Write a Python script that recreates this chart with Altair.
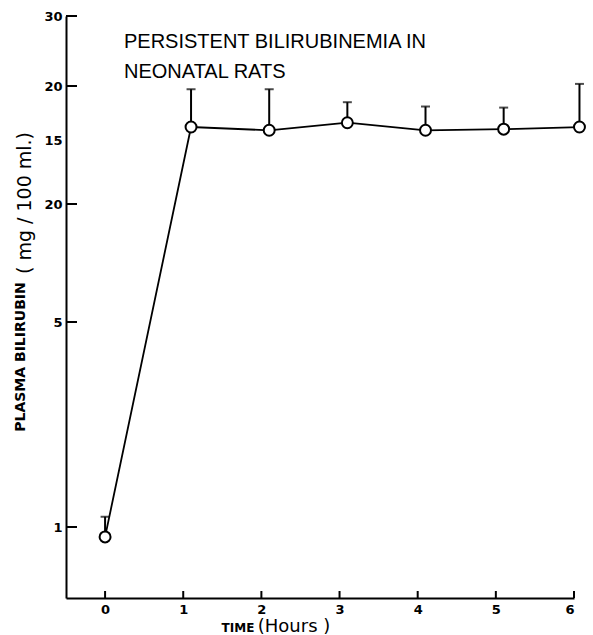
import altair as alt
import pandas as pd

# ---- data ----
time_h = [0, 1.1, 2.1, 3.1, 4.1, 5.1, 6.07]
bilirubin = [0.93, 16.2, 15.9, 16.6, 15.9, 16.0, 16.2]
upper = [1.2, 19.7, 19.7, 18.5, 18.1, 18.0, 20.3]

x_ticks = [0, 1, 2, 3, 4, 5, 6]
y_label_values = [1, 5, 10, 15, 20, 30]
y_tick_values = [1, 5, 10, 20, 30]

# hand-drawn (non-uniform) ordinate of the original figure: piecewise scale
y_breaks = [0.5, 1, 5, 10, 15, 20, 30]
y_break_pos = [588, 517, 312, 194, 130, 76, 6]

title_lines = ["PERSISTENT  BILIRUBINEMIA  IN", "NEONATAL  RATS"]

W, H = 508, 588

df = pd.DataFrame({"t": time_h, "v": bilirubin, "u": upper})
xt = pd.DataFrame({"t": x_ticks})
yt = pd.DataFrame({"v": y_tick_values})

xscale = alt.Scale(domain=[-0.5, 6], nice=False, zero=False)
yscale = alt.Scale(type="linear", domain=y_breaks, range=y_break_pos, nice=False, zero=False)

xenc = alt.X("t:Q", scale=xscale, axis=alt.Axis(
    values=x_ticks, title=None, grid=False, tickSize=0, labelPadding=5,
    labelFont="DejaVu Sans", labelFontWeight="bold", labelFontSize=13,
    labelColor="black", domainColor="black", domainWidth=2, format="d"))
yenc = alt.Y("v:Q", scale=yscale, axis=alt.Axis(
    values=y_label_values, title=None, grid=False, tickSize=0, labelPadding=4,
    labelExpr="datum.value == 10 ? '20' : datum.label",
    labelFont="DejaVu Sans", labelFontWeight="bold", labelFontSize=13,
    labelColor="black", domainColor="black", domainWidth=2))

line = alt.Chart(df).mark_line(color="black", strokeWidth=1.8).encode(x=xenc, y=yenc)

err = alt.Chart(df).mark_rule(color="black", strokeWidth=2).encode(
    x=alt.X("t:Q", scale=xscale), y=alt.Y("v:Q", scale=yscale), y2="u:Q")

caps = alt.Chart(df).mark_tick(color="black", thickness=2, size=9, orient="horizontal").encode(
    x=alt.X("t:Q", scale=xscale), y=alt.Y("u:Q", scale=yscale))

pts = alt.Chart(df).mark_point(shape="circle", filled=True, fill="white", stroke="black",
                               strokeWidth=2, size=120, opacity=1).encode(
    x=alt.X("t:Q", scale=xscale), y=alt.Y("v:Q", scale=yscale))

xticks = alt.Chart(xt).mark_rule(color="black", strokeWidth=2).encode(
    x=alt.X("t:Q", scale=xscale), y=alt.value(H), y2=alt.value(H - 7))

yticks = alt.Chart(yt).mark_rule(color="black", strokeWidth=2).encode(
    y=alt.Y("v:Q", scale=yscale), x=alt.value(0), x2=alt.value(11))

one = pd.DataFrame({"k": [0]})
font_title = "Liberation Sans"

t1 = alt.Chart(one).mark_text(align="left", baseline="alphabetic", font=font_title,
                              fontSize=20, color="black").encode(
    x=alt.value(58), y=alt.value(38), text=alt.value(title_lines[0]))
t2 = alt.Chart(one).mark_text(align="left", baseline="alphabetic", font=font_title,
                              fontSize=20, color="black").encode(
    x=alt.value(58), y=alt.value(68), text=alt.value(title_lines[1]))

ylab1 = alt.Chart(one).mark_text(angle=270, align="center", baseline="middle",
                                 font="DejaVu Sans", fontWeight="bold", fontSize=14,
                                 color="black").encode(
    x=alt.value(-45), y=alt.value(347), text=alt.value("PLASMA   BILIRUBIN"))
ylab2 = alt.Chart(one).mark_text(angle=270, align="center", baseline="middle",
                                 font="DejaVu Sans", fontSize=19, color="black").encode(
    x=alt.value(-41), y=alt.value(193), text=alt.value("( mg / 100 ml.)"))

xlab1 = alt.Chart(one).mark_text(align="center", baseline="alphabetic",
                                 font="DejaVu Sans", fontWeight="bold", fontSize=12,
                                 color="black").encode(
    x=alt.value(172), y=alt.value(622), text=alt.value("TIME"))
xlab2 = alt.Chart(one).mark_text(align="center", baseline="alphabetic",
                                 font="DejaVu Sans", fontSize=18, color="black").encode(
    x=alt.value(228), y=alt.value(622), text=alt.value("(Hours )"))

chart = alt.layer(line, err, caps, pts, xticks, yticks, t1, t2, ylab1, ylab2, xlab1, xlab2).properties(
    width=W, height=H,
    autosize=alt.AutoSizeParams(type="none"),
    padding={"left": 66, "top": 10, "right": 19, "bottom": 37},
    background="white",
).configure_view(stroke=None)

chart.save("out.html", embed_options={"renderer": "svg", "actions": False})
